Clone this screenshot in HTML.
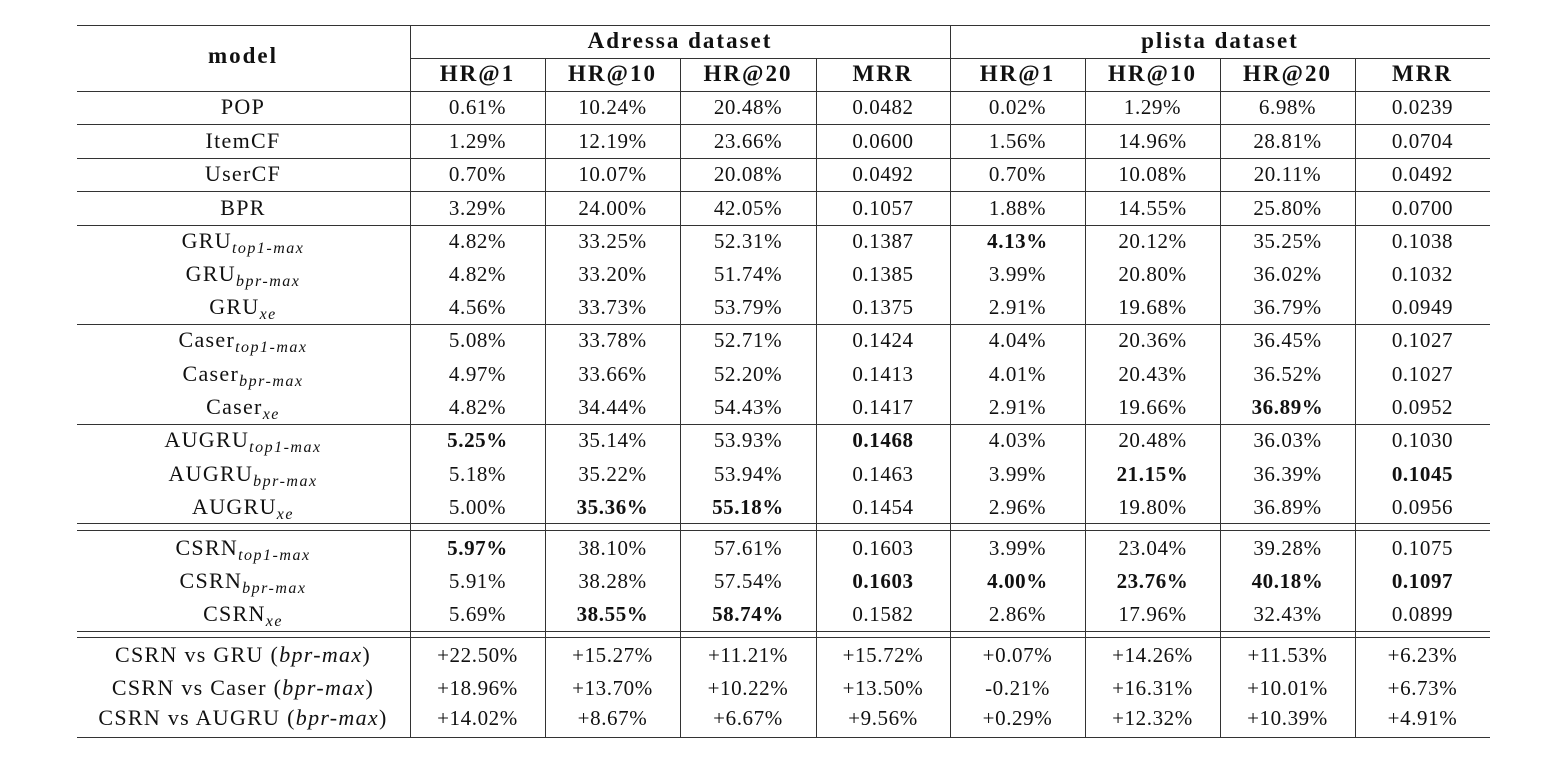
<!DOCTYPE html>
<html><head><meta charset="utf-8"><style>
body{margin:0;background:#fff;width:1562px;height:759px;overflow:hidden;position:relative;font-family:"Liberation Serif",serif;color:#111}
.h{position:absolute;height:1.3px;background:#333}
.v{position:absolute;width:1.3px;background:#333}
.c{position:absolute;text-align:center;font-size:21px;letter-spacing:0.6px;line-height:24px;white-space:nowrap}
.m{font-size:22px;letter-spacing:1.3px}
.b{font-weight:bold}
.hd{font-size:23px;letter-spacing:2px}
sub{font-style:italic;font-size:16px;vertical-align:-5px;letter-spacing:1.5px}
i{font-style:italic}
</style></head><body>
<script>
const models=["POP","ItemCF","UserCF","BPR","GRU|top1-max","GRU|bpr-max","GRU|xe","Caser|top1-max","Caser|bpr-max","Caser|xe","AUGRU|top1-max","AUGRU|bpr-max","AUGRU|xe","CSRN|top1-max","CSRN|bpr-max","CSRN|xe","CSRN vs GRU (#bpr-max#)","CSRN vs Caser (#bpr-max#)","CSRN vs AUGRU (#bpr-max#)"];
const adressa=[["0.61%","10.24%","20.48%","0.0482"],["1.29%","12.19%","23.66%","0.0600"],["0.70%","10.07%","20.08%","0.0492"],["3.29%","24.00%","42.05%","0.1057"],["4.82%","33.25%","52.31%","0.1387"],["4.82%","33.20%","51.74%","0.1385"],["4.56%","33.73%","53.79%","0.1375"],["5.08%","33.78%","52.71%","0.1424"],["4.97%","33.66%","52.20%","0.1413"],["4.82%","34.44%","54.43%","0.1417"],["*5.25%","35.14%","53.93%","*0.1468"],["5.18%","35.22%","53.94%","0.1463"],["5.00%","*35.36%","*55.18%","0.1454"],["*5.97%","38.10%","57.61%","0.1603"],["5.91%","38.28%","57.54%","*0.1603"],["5.69%","*38.55%","*58.74%","0.1582"],["+22.50%","+15.27%","+11.21%","+15.72%"],["+18.96%","+13.70%","+10.22%","+13.50%"],["+14.02%","+8.67%","+6.67%","+9.56%"]];
const plista=[["0.02%","1.29%","6.98%","0.0239"],["1.56%","14.96%","28.81%","0.0704"],["0.70%","10.08%","20.11%","0.0492"],["1.88%","14.55%","25.80%","0.0700"],["*4.13%","20.12%","35.25%","0.1038"],["3.99%","20.80%","36.02%","0.1032"],["2.91%","19.68%","36.79%","0.0949"],["4.04%","20.36%","36.45%","0.1027"],["4.01%","20.43%","36.52%","0.1027"],["2.91%","19.66%","*36.89%","0.0952"],["4.03%","20.48%","36.03%","0.1030"],["3.99%","*21.15%","36.39%","*0.1045"],["2.96%","19.80%","36.89%","0.0956"],["3.99%","23.04%","39.28%","0.1075"],["*4.00%","*23.76%","*40.18%","*0.1097"],["2.86%","17.96%","32.43%","0.0899"],["+0.07%","+14.26%","+11.53%","+6.23%"],["-0.21%","+16.31%","+10.01%","+6.73%"],["+0.29%","+12.32%","+10.39%","+4.91%"]];
const metrics=["HR@1","HR@10","HR@20","MRR"];
const rowY=[107,141,174,208,241,274,307,340,374,407,440,474,507,548,581,614,655,688,718];
const colX=[77,410,545,680,816,950,1085,1220,1355,1490];
const B=document.body;
function add(cls,st,html){const d=document.createElement('div');d.className=cls;Object.assign(d.style,st);if(html!==undefined)d.innerHTML=html;B.appendChild(d);return d;}
function hl(y,x1,x2){const d=add('h',{left:x1+'px',top:y+'px',width:(x2-x1)+'px'});

}
function vl(x,y1,y2){const d=add('v',{left:x+'px',top:y1+'px',height:(y2-y1)+'px'});

}
[25,91,124,158,191,225,324,424,523,530,631,637,737].forEach(y=>hl(y,77,1490));
hl(58,410,1490);
[410,950].forEach(x=>vl(x,25,737));
[545,680,816,1085,1220,1355].forEach(x=>vl(x,58,737));
function cell(txt,cx,cy,w,bold,extra){let t=txt,b=bold;if(t[0]==='*'){b=true;t=t.slice(1);}
let h=t.includes('|')?t.split('|')[0]+'<sub>'+t.split('|')[1]+'</sub>':t.replace(/#([^#]+)#/,'<i>$1</i>');
const d=add('c'+(b?' b':'')+(extra?' '+extra:''),{left:(cx-w/2)+'px',top:(cy-12)+'px',width:w+'px'},h);return d;}
let d=cell('model',243,56,300,true,'hd');


d=cell('Adressa dataset',680,41,500,true,'hd');


d=cell('plista dataset',1220,41,500,true,'hd');


for(let k=0;k<8;k++){d=cell(metrics[k%4],(colX[k+1]+colX[k+2])/2,74,134,true,'hd');

}
models.forEach((m,i)=>{d=cell(m,243,rowY[i],330,false,'m');


const vals=adressa[i].concat(plista[i]);
vals.forEach((v,k)=>{const e=cell(v,(colX[k+1]+colX[k+2])/2,rowY[i],134,false);

});});
</script>
</body></html>
